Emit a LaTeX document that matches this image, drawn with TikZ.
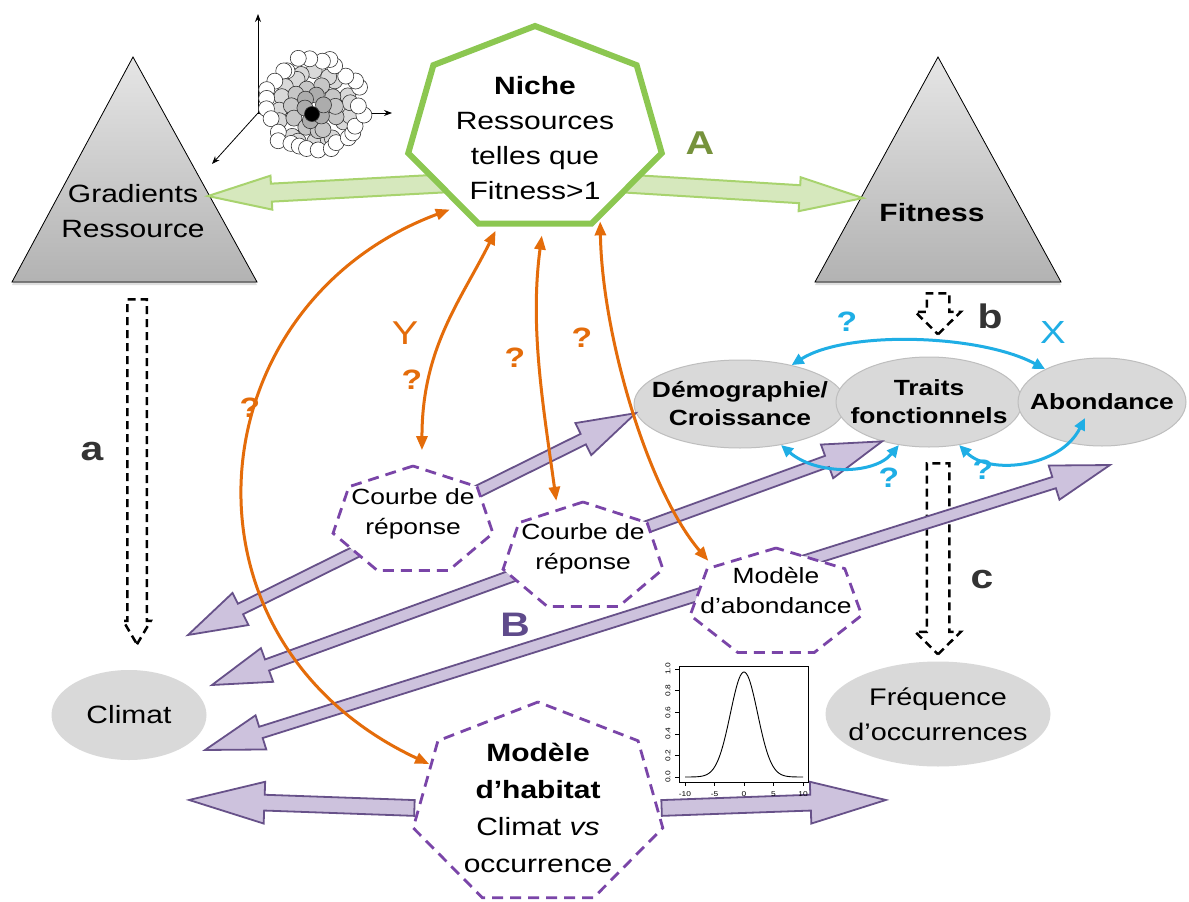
\documentclass[tikz,border=0pt]{standalone}
\usepackage{fontspec}
\setmainfont{Liberation Sans}[FakeStretch=1.2]
\usepackage{tikz}
\usetikzlibrary{arrows.meta, positioning, shapes.geometric, shapes.arrows, calc, shadows}

\definecolor{nicheGreen}{HTML}{8CC751}
\definecolor{arrowGreen}{HTML}{A8D36E}
\definecolor{paleGreen}{HTML}{CFE4B2}
\definecolor{labelGreen}{HTML}{76923C}
\definecolor{accentOrange}{HTML}{E46C0A}
\definecolor{accentBlue}{HTML}{1FAEE5}
\definecolor{dashPurple}{HTML}{7A45A8}
\definecolor{lavender}{HTML}{CDC2DD}
\definecolor{lavenderLine}{HTML}{675189}
\definecolor{labelPurple}{HTML}{5F4B8B}
\definecolor{ellGrey}{HTML}{D9D9D9}
\definecolor{ellLine}{HTML}{BEBEBE}
\definecolor{labelGrey}{HTML}{333333}

\begin{document}
\begin{tikzpicture}[x=1pt, y=-1pt,
    txt/.style={align=center, font=\fontsize{25}{35}\selectfont},
    midtxt/.style={align=center, font=\fontsize{22}{30}\selectfont},
    tri/.style={draw=black, line width=0.8pt, top color=gray!20, bottom color=gray!60,
        drop shadow={opacity=0.25, shadow xshift=0pt, shadow yshift=-3pt}},
    grey/.style={ellipse, fill=ellGrey, inner xsep=-30pt, inner ysep=0pt},
    topell/.style={grey, draw=ellLine, line width=1pt, align=center, font=\fontsize{22}{28}\selectfont\bfseries},
    heptnode/.style={ellipse, inner xsep=-30pt, inner ysep=-10pt},
    nicheline/.style={draw=nicheGreen, line width=6pt, fill=white},
    dashpoly/.style={draw=dashPurple, line width=2.8pt, dash pattern=on 11pt off 7pt, fill=white},
    greenarr/.style={single arrow, draw=arrowGreen, line width=2pt, fill=paleGreen, fill opacity=0.85,
        inner sep=0pt, inner ysep=8pt, single arrow head extend=8pt, single arrow tip angle=30, anchor=tail},
    lavsingle/.style={single arrow, draw=lavenderLine, line width=1.8pt, fill=lavender, inner sep=0pt,
        inner ysep=7pt, single arrow head extend=13pt, single arrow tip angle=31, anchor=tail},
    lavdouble/.style={double arrow, draw=lavenderLine, line width=1.8pt, fill=lavender, inner sep=0pt,
        inner ysep=5pt, double arrow head extend=12pt, double arrow tip angle=34},
    dasharr/.style={single arrow, draw=black, line width=2.5pt, dash pattern=on 8pt off 5pt, inner sep=0pt,
        inner ysep=10pt, single arrow head extend=11.5pt, single arrow tip angle=91, anchor=tail, rotate=-90},
    orangearr/.style={<->, >={Triangle[length=14pt,width=11pt]}, line width=3pt, draw=accentOrange},
    bluearr/.style={<->, >={Triangle[length=12pt,width=11pt]}, line width=3pt, draw=accentBlue},
    lbl/.style={font=\fontsize{34}{34}\selectfont\bfseries, text=labelGrey},
    qo/.style={font=\fontsize{28}{28}\selectfont\bfseries, text=accentOrange},
    qb/.style={font=\fontsize{28}{28}\selectfont\bfseries, text=accentBlue},
    ticklbl/.style={font=\fontsize{7}{7}\selectfont, inner sep=0pt},
    dot/.style={draw=black!80, line width=0.6pt}
]
\fill[white] (0,0) rectangle (1189,902);
\useasboundingbox (0,0) rectangle (1189,902);

% gradient and fitness triangles
\filldraw[tri] (12,282) -- (133,57) -- (257,282) -- cycle;
\filldraw[tri] (815,282) -- (938,57) -- (1061,282) -- cycle;
\node[txt] (grad) at (133,211) {Gradients\\Ressource};
\node[txt, font=\fontsize{25}{35}\selectfont\bfseries] (fit) at (932,213) {Fitness};

% green block arrows (A)
\coordinate (gtailL) at (470,182);
\coordinate (gtipL) at (209,196);
\coordinate (gtailR) at (600,182);
\coordinate (gtipR) at (862,198);
\foreach \from/\to in {gtailL/gtipL, gtailR/gtipR}
  \path let \p1=($(\to)-(\from)$), \n1={atan2(\y1,\x1)}, \n2={veclen(\x1,\y1)} in
    node[greenarr, rotate=\n1, minimum height=\n2] (arr-\to) at (\from) {};

% niche
\coordinate (nicheC) at (535,130);
\draw[nicheline] ($(nicheC)+(90:130pt and 104pt)$)
  \foreach \k in {1,...,6}{ -- ($(nicheC)+(90+\k*360/7:130pt and 104pt)$)} -- cycle;
\node[txt, ellipse, inner sep=-10pt, minimum width=250, minimum height=195] (niche) at (535,138)
  {\textbf{Niche}\\Ressources\\telles que\\Fitness>1};

% cluster in resource space
\draw[-{Stealth[length=8pt,width=6pt]}, line width=0.8pt] (258,113) -- (258,14);
\draw[-{Stealth[length=8pt,width=6pt]}, line width=0.8pt] (258,113) -- (392,113);
\draw[-{Stealth[length=8pt,width=6pt]}, line width=0.8pt] (258,113) -- (212,164);
\pgfmathsetseed{11}
\foreach \r/\n/\g in {32/18/30, 19/11/45, 9/6/65}
  \foreach \k in {1,...,\n}
    \filldraw[dot, fill=gray!\g] ($(314,108)+({\k*360/\n+rnd*20}:{(\r+rnd*6)*1pt})$) circle (8);
\filldraw[dot, fill=black] (312,114) circle (7.5);
\foreach \k in {1,...,28}
  \filldraw[dot, fill=white] ($(314,106)+({\k*360/28+rnd*10}:{(42+rnd*9)*1pt})$) circle (8);

% grey ellipses
\node[topell, minimum width=212, minimum height=88] (demo) at (740,404) {Démographie/\\Croissance};
\node[topell, minimum width=186, minimum height=90] (traits) at (929,402) {Traits\\fonctionnels};
\node[topell, minimum width=168, minimum height=88] (abond) at (1102,402) {Abondance};
\node[grey, minimum width=155, minimum height=90, font=\fontsize{25}{35}\selectfont] (clim) at (129,715) {Climat};
\node[grey, minimum width=225, minimum height=105, align=center, font=\fontsize{24}{35}\selectfont] (freq)
  at (938,714) {Fréquence\\d’occurrences};

% dashed hollow arrows a, b, c
\node[dasharr, minimum height=345, inner ysep=8.5pt, single arrow head extend=4pt, single arrow tip angle=61] (arrA) at (137,298) {};
\node[dasharr, minimum height=41] (arrB) at (938,292) {};
\node[dasharr, minimum height=191] (arrC) at (938,462) {};

% purple block arrows (B)
\coordinate (d1) at (188,635);
\coordinate (d2) at (212,685);
\coordinate (d3) at (205,750);
\coordinate (d3b) at (1110,465);
\foreach \from/\to in {d1/demo.185, d2/traits.-140, d3/d3b}
  \path let \p1=($(\to)-(\from)$), \n1={atan2(\y1,\x1)}, \n2={veclen(\x1,\y1)} in
    node[lavdouble, rotate=\n1, minimum height=\n2] (arr-\from) at ($(\from)!0.5!(\to)$) {};

% dashed heptagons
\coordinate (c1P) at (413,521);
\coordinate (c2P) at (583,557);
\coordinate (mabP) at (776,603);
\coordinate (mhabP) at (538,805);
\foreach \c/\rx/\ry in {c1P/82/55, c2P/82/55, mabP/88/55, mhabP/128/103}
  \draw[dashpoly] ($(\c)+(90:\rx pt and \ry pt)$)
    \foreach \k in {1,...,6}{ -- ($(\c)+(90+\k*360/7:\rx pt and \ry pt)$)} -- cycle;
\node[heptnode, midtxt, minimum width=156, minimum height=102] (c1) at (413,514) {Courbe de\\réponse};
\node[heptnode, midtxt, minimum width=156, minimum height=102] (c2) at (583,549) {Courbe de\\réponse};
\node[heptnode, midtxt, minimum width=167, minimum height=102] (mab) at (776,591) {Modèle\\d’abondance};
\node[heptnode, txt, font=\fontsize{25}{37}\selectfont, minimum width=245, minimum height=190] (mhab) at (538,808)
  {\textbf{Modèle}\\\textbf{d’habitat}\\Climat \textit{vs}\\occurrence};

% habitat model arrows
\coordinate (hL) at (190,800);
\coordinate (hR) at (885,800);
\foreach \from/\to in {mhab.west/hL, mhab.east/hR}
  \path let \p1=($(\to)-(\from)$), \n1={atan2(\y1,\x1)}, \n2={veclen(\x1,\y1)} in
    node[lavsingle, rotate=\n1, minimum height=\n2] (arr-\to) at (\from) {};

% response curve plot
\draw[line width=0.6pt] (679,666) rectangle (808,782);
\draw[line width=0.9pt] plot[domain=-10:10, samples=80, smooth] ({744+5.9*\x}, {777-105*exp(-\x*\x/10.6)});
\foreach \t in {-10,-5,0,5,10} {
  \draw[line width=0.5pt] ({744+5.9*(\t)},782) -- ++(0,4);
  \node[ticklbl] (tx\t) at ({744+5.9*(\t)},794) {\t};
}
\foreach \v/\l in {0/0.0, 0.2/0.2, 0.4/0.4, 0.6/0.6, 0.8/0.8, 1/1.0} {
  \draw[line width=0.5pt] (679,{777-108*\v}) -- ++(-4,0);
  \node[ticklbl, rotate=90] (ty\l) at (668,{777-108*\v}) {\l};
}

% orange links to the niche (Y)
\draw[orangearr] (niche.-140) .. controls +(-255,95) and +(-265,-124) .. (mhab.158);
\draw[orangearr, shorten >=13pt] (niche.-113) .. controls +(-35,70) and +(0,-115) .. (c1.80);
\draw[orangearr] (niche.-86) .. controls +(-12,90) and +(-14,-100) .. (c2.119);
\draw[orangearr] (niche.-52) .. controls +(2,115) and +(-60,-70) .. (mab.156);

% blue links between traits (X)
\draw[bluearr] (demo.37) .. controls +(55,-35) and +(-65,-35) .. (abond.150);
\draw[bluearr] (demo.-45) .. controls +(35,30) and +(-25,30) .. (traits.-125);
\draw[bluearr] (traits.-55) .. controls +(30,30) and +(-25,50) .. ([xshift=-17pt,yshift=-16pt]abond.center);

% labels
\node[lbl] (la) at (92,452) {a};
\node[lbl] (lb) at (990,316) {b};
\node[lbl] (lc) at (982,580) {c};
\node[font=\fontsize{33}{33}\selectfont\bfseries, text=labelGreen] (lA) at (700,143) {A};
\node[font=\fontsize{34}{34}\selectfont\bfseries, text=labelPurple] (lB) at (515,625) {B};
\node[font=\fontsize{32}{32}\selectfont, text=accentBlue] (lX) at (1053,332) {X};
\node[font=\fontsize{33}{33}\selectfont, text=accentOrange] (lY) at (405,333) {Y};
\node[qo] (q1) at (250,408) {?};
\node[qo] (q2) at (412,380) {?};
\node[qo] (q3) at (515,358) {?};
\node[qo] (q4) at (582,338) {?};
\node[qb] (q5) at (847,322) {?};
\node[qb] (q6) at (889,478) {?};
\node[qb] (q7) at (983,470) {?};
\end{tikzpicture}
\end{document}
